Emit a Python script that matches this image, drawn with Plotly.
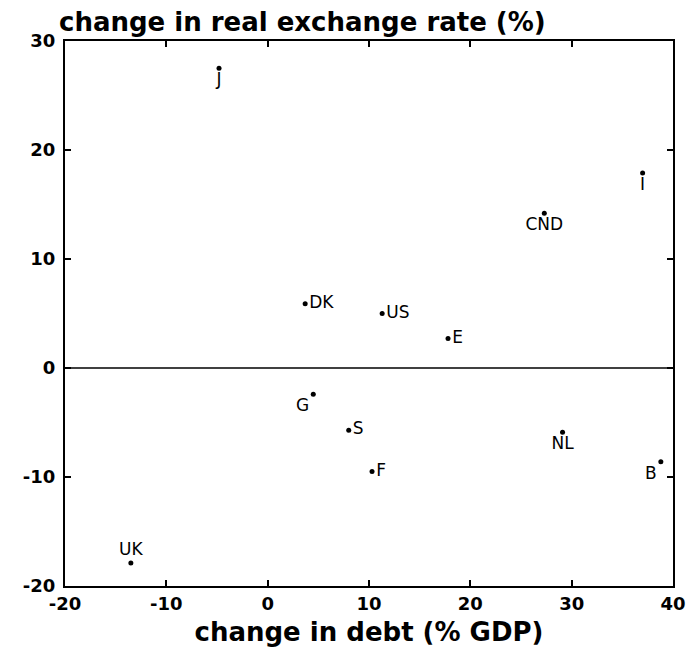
import plotly.graph_objects as go

# Change in public debt vs. change in real exchange rate, by country
countries = ["J", "I", "CND", "DK", "US", "E", "G", "S", "F", "NL", "B", "UK"]
debt_change = [-4.8, 37.0, 27.3, 3.7, 11.3, 17.8, 4.5, 8.0, 10.3, 29.1, 38.8, -13.5]
rate_change = [27.5, 17.9, 14.2, 5.9, 5.0, 2.7, -2.4, -5.7, -9.5, -5.9, -8.6, -17.9]

x_ticks = [-20, -10, 0, 10, 20, 30, 40]
x_tick_labels = ["-20", "-10", "0", "10", "20", "30", "40"]
y_ticks = [-20, -10, 0, 10, 20, 30]
y_tick_labels = ["-20", "-10", "0", "10", "20", "30"]

# where each country's tag sits relative to its point
label_pos = {
    "J": "bottom center", "I": "bottom center", "CND": "bottom center",
    "DK": "middle right", "US": "middle right", "E": "middle right",
    "G": "bottom left", "S": "middle right", "F": "middle right",
    "NL": "bottom center", "B": "bottom left", "UK": "top center",
}

BOLD = "DejaVu Sans"

fig = go.Figure()
fig.add_trace(go.Scatter(
    x=debt_change, y=rate_change,
    mode="markers+text",
    text=countries,
    textposition=[label_pos[c] for c in countries],
    textfont=dict(family="DejaVu Sans", size=17, color="black"),
    marker=dict(color="black", size=5),
    cliponaxis=False,
    showlegend=False,
))

axis_common = dict(
    showgrid=False, zeroline=False, automargin=False,
    showline=True, linecolor="black", linewidth=2, mirror="ticks",
    ticks="inside", ticklen=6, tickcolor="black", tickwidth=1.5,
    tickfont=dict(family=BOLD, size=18, color="black", weight="bold"),
)

fig.update_xaxes(range=[-20, 40], tickvals=x_ticks, ticktext=x_tick_labels, **axis_common,
                 title=dict(text="change in debt (% GDP)",
                            font=dict(family=BOLD, size=26, color="black", weight="bold"),
                            standoff=10))
fig.update_yaxes(range=[-20, 30], tickvals=y_ticks, ticktext=y_tick_labels,
                 ticklabelstandoff=4, **axis_common)

# horizontal reference line at zero
fig.add_hline(y=0, line=dict(color="black", width=1.5))

fig.update_layout(
    width=693, height=658,
    margin=dict(l=65, r=20, t=41, b=72),
    paper_bgcolor="white", plot_bgcolor="white",
    annotations=[dict(
        text="change in real exchange rate (%)",
        xref="paper", yref="paper", x=-0.013, y=1.0,
        xanchor="left", yanchor="bottom", yshift=2, showarrow=False,
        font=dict(family=BOLD, size=26, color="black", weight="bold"),
    )],
)

fig.write_html("out.html")
